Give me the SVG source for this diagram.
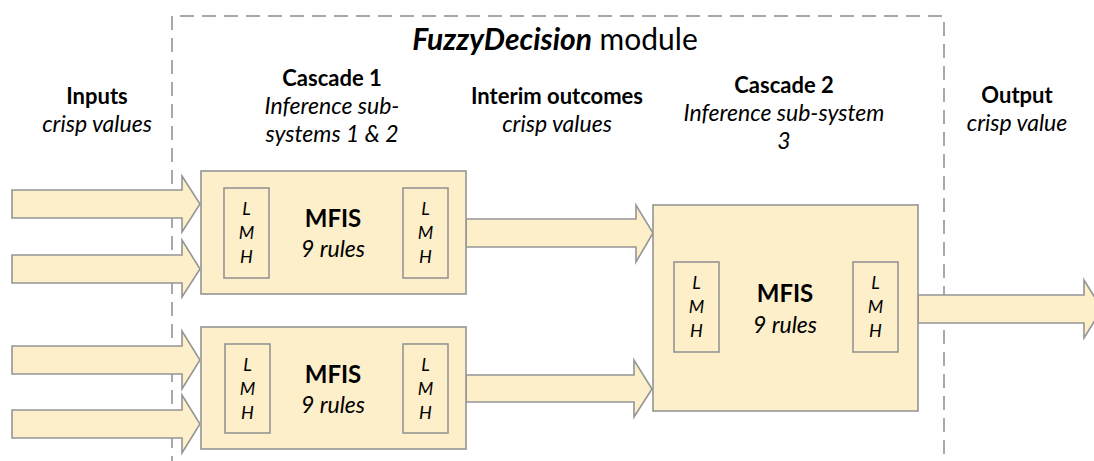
<svg xmlns="http://www.w3.org/2000/svg" width="1094" height="461" viewBox="0 0 1094 461">
<style>
.box{fill:#fdefc9;stroke:#959595;stroke-width:1.6}
.arr{fill:#fdefc9;stroke:#959595;stroke-width:1.6;stroke-linejoin:miter}
.t{font-family:Lato,"Liberation Sans",sans-serif;fill:#000;text-anchor:middle}
.b{font-weight:bold;font-size:22px}
.i{font-style:italic;font-size:23px}
.s{font-style:italic;font-size:18px}
.m{font-weight:bold;font-size:24px}
</style>
<rect width="1094" height="461" fill="#fff"/>
<path d="M172 470 V16 H944 V470" fill="none" stroke="#8c8c8c" stroke-width="1.5" stroke-dasharray="14 8"/>
<text class="t" x="555" y="50" font-size="30"><tspan font-weight="bold" font-style="italic">FuzzyDecision</tspan> module</text>
<g id="labels">
<text class="t b" x="97" y="104">Inputs</text>
<text class="t i" x="97" y="132">crisp values</text>
<text class="t b" x="332" y="86">Cascade 1</text>
<text class="t i" x="332" y="114">Inference sub-</text>
<text class="t i" x="332" y="142">systems 1 &amp; 2</text>
<text class="t b" x="557" y="104">Interim outcomes</text>
<text class="t i" x="557" y="132">crisp values</text>
<text class="t b" x="784" y="93">Cascade 2</text>
<text class="t i" x="784" y="121">Inference sub-system</text>
<text class="t i" x="784" y="149">3</text>
<text class="t b" x="1017" y="103">Output</text>
<text class="t i" x="1017" y="131">crisp value</text>
</g>
<g id="connectors">
<polygon class="arr" points="12,190 182,190 182,176 200,204 182,232 182,218 12,218"/>
<polygon class="arr" points="12,255 182,255 182,240 200,269 182,297 182,283 12,283"/>
<polygon class="arr" points="12,346 182,346 182,331 200,360 182,389 182,374 12,374"/>
<polygon class="arr" points="12,410 182,410 182,395 200,424 182,453 182,438 12,438"/>
<polygon class="arr" points="466,219 636,219 636,205 653,233 636,262 636,247 466,247"/>
<polygon class="arr" points="466,375 634,375 634,360 652,389 634,417 634,402 466,402"/>
<polygon class="arr" points="918,295 1084,295 1084,280 1102,309 1084,338 1084,323 918,323"/>
</g>
<g id="mfis1">
<rect class="box" x="201" y="171" width="265" height="123"/>
<rect class="box" x="224" y="188" width="45" height="90"/>
<rect class="box" x="403" y="188" width="45" height="90"/>
<text class="t s" x="246.5" y="215">L</text><text class="t s" x="246.5" y="239">M</text><text class="t s" x="246.5" y="263">H</text>
<text class="t s" x="425.5" y="215">L</text><text class="t s" x="425.5" y="239">M</text><text class="t s" x="425.5" y="263">H</text>
<text class="t m" x="333" y="227">MFIS</text>
<text class="t i" x="333" y="257">9 rules</text>
</g>
<g id="mfis2">
<rect class="box" x="201" y="327" width="265" height="122"/>
<rect class="box" x="225" y="344" width="45" height="89"/>
<rect class="box" x="403" y="344" width="45" height="89"/>
<text class="t s" x="247.5" y="371">L</text><text class="t s" x="247.5" y="395">M</text><text class="t s" x="247.5" y="419">H</text>
<text class="t s" x="425.5" y="371">L</text><text class="t s" x="425.5" y="395">M</text><text class="t s" x="425.5" y="419">H</text>
<text class="t m" x="333" y="383">MFIS</text>
<text class="t i" x="333" y="413">9 rules</text>
</g>
<g id="mfis3">
<rect class="box" x="653" y="205" width="265" height="206"/>
<rect class="box" x="674" y="262" width="45" height="90"/>
<rect class="box" x="853" y="262" width="45" height="90"/>
<text class="t s" x="696.5" y="289">L</text><text class="t s" x="696.5" y="313">M</text><text class="t s" x="696.5" y="337">H</text>
<text class="t s" x="875.5" y="289">L</text><text class="t s" x="875.5" y="313">M</text><text class="t s" x="875.5" y="337">H</text>
<text class="t m" x="785" y="302">MFIS</text>
<text class="t i" x="785" y="333">9 rules</text>
</g>
</svg>
